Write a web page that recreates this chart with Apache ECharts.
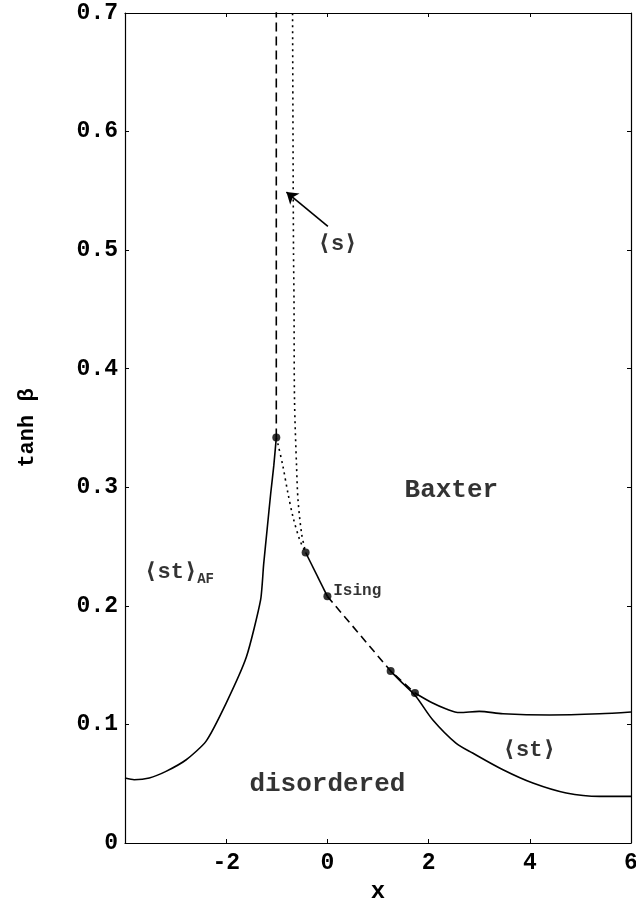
<!DOCTYPE html>
<html>
<head>
<meta charset="utf-8">
<script src="https://cdn.jsdelivr.net/npm/echarts@6/dist/echarts.min.js"></script>
<style>
html, body { margin: 0; padding: 0; background: #fff; }
#chart { width: 636px; height: 903px; }
</style>
</head>
<body>
<div id="chart"></div>
<script>
// phase diagram, tanh(beta) against x

var FONT = "'Liberation Mono', 'DejaVu Sans Mono', monospace";

// boundary of the <st>_AF phase (solid, left)
var afCurve = [
	[-4.0, 0.0548], [-3.82, 0.0534], [-3.52, 0.0548], [-3.19, 0.0604],
	[-2.79, 0.0702], [-2.40, 0.0857], [-2.00, 0.118], [-1.60, 0.157],
	[-1.32, 0.205], [-1.26, 0.235], [-1.19, 0.265], [-1.12, 0.295],
	[-1.06, 0.318], [-1.01, 0.342]
];
// dashed vertical line above the AF tip
var vertDash = [[-1.01, 0.342], [-1.01, 0.72]];
// outer dotted line (<s> boundary)
var sDotted = [
	[-0.69, 0.72], [-0.68, 0.6], [-0.67, 0.5], [-0.66, 0.458], [-0.65, 0.374],
	[-0.61, 0.318], [-0.58, 0.289], [-0.51, 0.261], [-0.43, 0.245]
];
// inner dotted line from the AF tip
var innerDotted = [
	[-1.01, 0.342], [-0.98, 0.337], [-0.88, 0.318], [-0.78, 0.295],
	[-0.68, 0.275], [-0.55, 0.256], [-0.43, 0.245]
];
// solid piece down to the Ising point
var isingSolid = [[-0.43, 0.245], [0, 0.208]];
// dashed piece past the Ising point
var isingDash = [[0, 0.208], [1.25, 0.145], [1.73, 0.1265]];
// upper right solid line
var upperRight = [
	[1.73, 0.1265], [2.08, 0.118], [2.35, 0.113], [2.61, 0.110], [3.0, 0.111],
	[3.47, 0.109], [4.39, 0.108], [5.38, 0.109], [6.0, 0.1105]
];
// lower right solid line
var lowerRight = [
	[1.25, 0.145], [1.48, 0.135], [1.75, 0.1236], [2.08, 0.104], [2.54, 0.0843],
	[2.87, 0.0759], [3.47, 0.0618], [4.06, 0.0506], [4.72, 0.0422],
	[5.38, 0.0393], [6.0, 0.0393]
];
// special points
var points = [[-1.01, 0.342], [-0.43, 0.245], [0, 0.208], [1.25, 0.145], [1.73, 0.1265]];
// arrow pointing at the <s> line
var arrowFrom = [0.01, 0.52];
var arrowTo = [-0.81, 0.549];

// region labels
var labels = [
	{ value: [2.45, 0.298], text: '{big|Baxter}' },
	{ value: [-2.93, 0.229], text: '{mid|⟨st⟩}{sub|AF}' },
	{ value: [0.0, 0.050], text: '{big|disordered}' },
	{ value: [3.99, 0.079], text: '{mid|⟨st⟩}' },
	{ value: [0.59, 0.213], text: '{small|Ising}' },
	{ value: [0.20, 0.506], text: '{mid|⟨s⟩}' }
];

function lineSeries(data, type, smooth) {
	return {
		type: 'line',
		data: data,
		showSymbol: false,
		smooth: smooth || false,
		silent: true,
		lineStyle: { color: '#000', width: 1.6, type: type }
	};
}

var chart = echarts.init(document.getElementById('chart'));

var axisCommon = {
	axisLine: { show: true, onZero: false, lineStyle: { color: '#000', width: 1.2 } },
	axisTick: { show: true, inside: true, length: 4, lineStyle: { color: '#000' } },
	splitLine: { show: false }
};

var option = {
	animation: false,
	grid: { left: 125, right: 5, top: 13, bottom: 60, outerBoundsMode: 'none' },
	xAxis: [
		Object.assign({}, axisCommon, {
			type: 'value', min: -4, max: 6, interval: 2,
			name: 'x', nameLocation: 'middle', nameGap: 36,
			nameTextStyle: { fontFamily: FONT, fontWeight: 'bold', fontSize: 24, color: '#000' },
			axisLabel: { showMinLabel: false, margin: 9, fontFamily: FONT, fontWeight: 'bold', fontSize: 23, color: '#000' }
		}),
		Object.assign({}, axisCommon, {
			type: 'value', min: -4, max: 6, interval: 2, position: 'top',
			axisLabel: { show: false }
		})
	],
	yAxis: [
		Object.assign({}, axisCommon, {
			type: 'value', min: 0, max: 0.7, interval: 0.1,
			name: 'tanh β', nameLocation: 'middle', nameGap: 87, nameRotate: 90,
			nameTextStyle: { fontFamily: FONT, fontWeight: 'bold', fontSize: 22, color: '#000' },
			axisLabel: { margin: 7, fontFamily: FONT, fontWeight: 'bold', fontSize: 23, color: '#000' }
		}),
		Object.assign({}, axisCommon, {
			type: 'value', min: 0, max: 0.7, interval: 0.1, position: 'right',
			axisLabel: { show: false }
		})
	],
	series: [
		lineSeries(afCurve, 'solid', 0.2),
		lineSeries(vertDash, [9, 5]),
		lineSeries(sDotted, [2, 4], 0.3),
		lineSeries(innerDotted, [2, 4], 0.3),
		lineSeries(isingSolid, 'solid'),
		lineSeries(isingDash, [8, 5]),
		lineSeries(upperRight, 'solid', 0.3),
		lineSeries(lowerRight, 'solid', 0.3),
		{
			type: 'scatter',
			data: points,
			symbol: 'circle',
			symbolSize: 8,
			silent: true,
			itemStyle: { color: '#000' },
			markLine: {
				silent: true,
				symbol: ['none', 'arrow'],
				symbolSize: 11,
				label: { show: false },
				lineStyle: { color: '#000', width: 1.6, type: 'solid' },
				data: [[{ coord: arrowFrom }, { coord: arrowTo }]]
			}
		},
		{
			type: 'scatter',
			data: labels.map(function (l) { return { value: l.value, text: l.text }; }),
			symbolSize: 0,
			silent: true,
			label: {
				show: true,
				position: 'inside',
				align: 'center',
				verticalAlign: 'middle',
				offset: [0, 1],
				formatter: function (p) { return p.data.text; },
				rich: {
					big: { fontFamily: FONT, fontWeight: 'bold', fontSize: 26, color: '#000' },
					mid: { fontFamily: FONT, fontWeight: 'bold', fontSize: 22, color: '#000', lineHeight: 28 },
					sub: { fontFamily: FONT, fontWeight: 'bold', fontSize: 14, color: '#000', lineHeight: 28, padding: [14, 0, 0, 0] },
					small: { fontFamily: FONT, fontWeight: 'bold', fontSize: 16, color: '#000' }
				}
			}
		}
	]
};

chart.setOption(option);
</script>
</body>
</html>
